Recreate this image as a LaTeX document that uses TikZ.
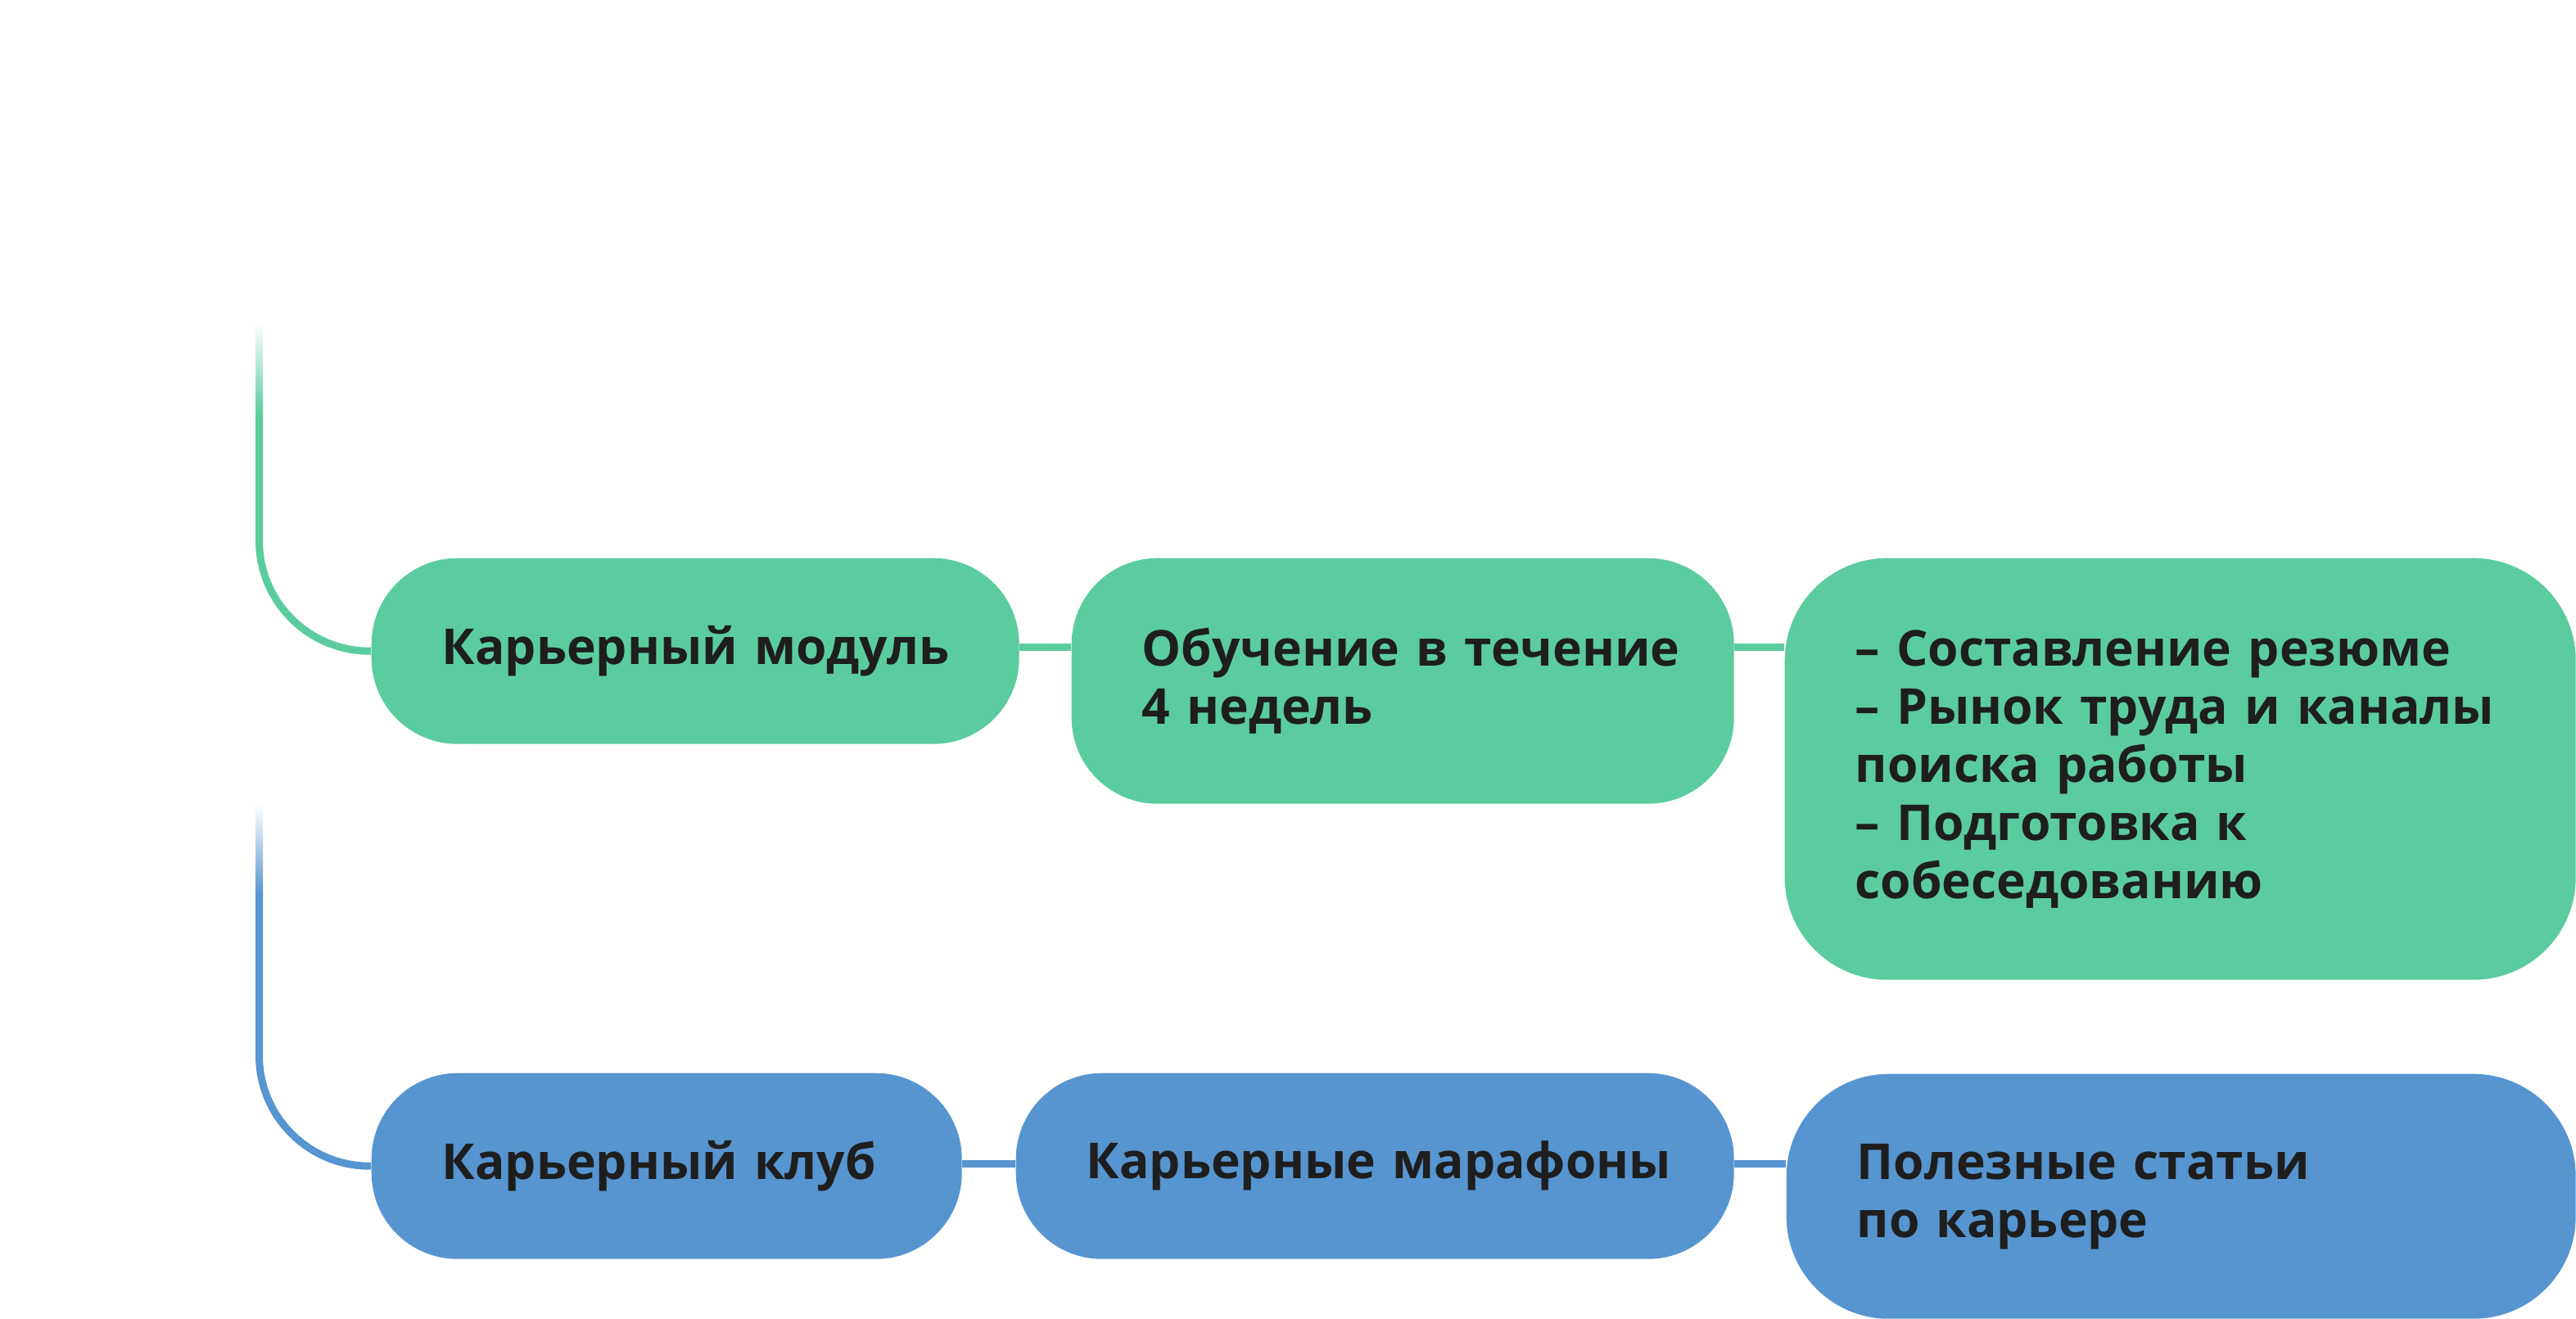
\documentclass[tikz,border=0pt]{standalone}
\usepackage{fontspec}
\setmainfont{Open Sans}
\usetikzlibrary{calc,positioning}
\definecolor{mint}{HTML}{5BCCA0}
\definecolor{sky}{HTML}{5695D0}
\definecolor{ink}{HTML}{1E1E1E}
\tikzset{card/.style={anchor=north west, inner xsep=8.6mm, inner ysep=0pt, align=left,
    text=ink, font=\bfseries\fontsize{17.2}{20.2}\selectfont, rounded corners=10.5mm},
  mintcard/.style={card, fill=mint},
  skycard/.style={card, fill=sky},
  rail/.style={line width=0.9mm, rounded corners=13.5mm}}

\begin{document}
\begin{tikzpicture}
  \useasboundingbox (0,0) rectangle (31.46,-16.11);
  % career module row
  \node[mintcard, text width=61.9mm, minimum height=22.7mm] (mod) at (4.53,-6.81) {Карьерный~модуль};
  \node[mintcard, text width=63.7mm, minimum height=30mm] (edu) at (13.08,-6.81) {Обучение~в~течение\\4~недель};
  \node[mintcard, text width=79.4mm, minimum height=51.5mm, rounded corners=12.5mm] (topics) at (21.79,-6.81)
    {–~Составление~резюме\\–~Рынок~труда~и~каналы\\поиска~работы\\–~Подготовка~к\\собеседованию};
  % career club row
  \node[skycard, text width=54.9mm, minimum height=22.7mm] (club) at (4.53,-13.10) {Карьерный~клуб};
  \node[skycard, text width=70.5mm, minimum height=22.7mm] (mar) at (12.40,-13.10) {Карьерные~марафоны};
  \node[skycard, text width=79.2mm, minimum height=29.9mm, rounded corners=12.5mm] (art) at (21.81,-13.11)
    {Полезные~статьи\\по~карьере};
  % rails coming in from above
  \coordinate (gtop) at (3.165,-5.07);
  \coordinate (btop) at (3.165,-10.93);
  \shade[top color=white, bottom color=mint] ($(gtop)+(-0.045,1.14)$) rectangle ($(gtop)+(0.045,0)$);
  \shade[top color=white, bottom color=sky] ($(btop)+(-0.045,1.11)$) rectangle ($(btop)+(0.045,0)$);
  \draw[rail, mint] (gtop) |- (mod.west);
  \draw[rail, sky] (btop) |- (club.west);
  % links between cards
  \draw[rail, mint] ([yshift=0.5mm]mod.east) -- ([yshift=0.5mm]mod.east -| edu.west);
  \draw[rail, mint] ([yshift=0.5mm]mod.east -| edu.east) -- ([yshift=0.5mm]mod.east -| topics.west);
  \draw[rail, sky] ([yshift=0.3mm]club.east) -- ([yshift=0.3mm]club.east -| mar.west);
  \draw[rail, sky] ([yshift=0.3mm]mar.east) -- ([yshift=0.3mm]mar.east -| art.west);
\end{tikzpicture}
\end{document}
